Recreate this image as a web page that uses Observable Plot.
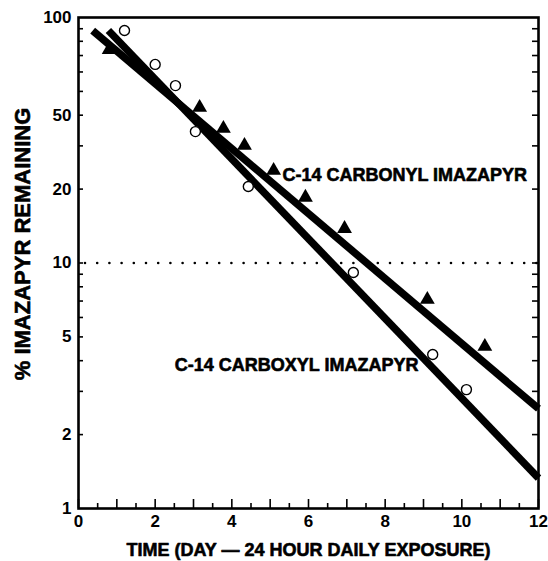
<!DOCTYPE html>
<html>
<head>
<meta charset="utf-8">
<script src="https://cdn.jsdelivr.net/npm/d3@7"></script>
<script src="https://cdn.jsdelivr.net/npm/@observablehq/plot@0.6"></script>
<style>
  html, body { margin: 0; padding: 0; background: #fff; }
  #chart svg { display: block; }
</style>
</head>
<body>
<div id="chart"></div>
<script>
// Observed points: C-14 carbonyl imazapyr (filled triangles)
const carbonylDay = [0.8, 3.16, 3.78, 4.33, 5.09, 5.92, 6.94, 9.1, 10.6];
const carbonylPct = [74, 43, 35.3, 30.1, 23.8, 18.5, 13.8, 7.1, 4.57];
// Observed points: C-14 carboxyl imazapyr (open circles)
const carboxylDay = [1.2, 2.0, 2.53, 3.05, 4.43, 7.17, 9.24, 10.12];
const carboxylPct = [88.5, 64.4, 52.8, 34.3, 20.5, 9.15, 4.24, 3.05];
// Fitted regression lines (end points)
const carbonylFitDay = [0.37, 12];
const carbonylFitPct = [88.5, 2.55];
const carboxylFitDay = [0.78, 12];
const carboxylFitPct = [88.5, 1.33];
// Reference line
const refPct = [10];
// Series labels
const seriesNames = ["C-14 CARBONYL IMAZAPYR", "C-14 CARBOXYL IMAZAPYR"];
const labelDay = [5.32, 8.87];
const labelPct = [22.8, 3.82];
const labelAnchor = ["start", "end"];
// Axes
const xTickValues = [0, 2, 4, 6, 8, 10, 12];
const xMajorTicks = [0,1,2,3,4,5,6,7,8,9,10,11,12];
const xMinorTicks = [0.5,1.5,2.5,3.5,4.5,5.5,6.5,7.5,8.5,9.5,10.5,11.5];
const yTickValues = [1, 2, 5, 10, 20, 40, 100];
const yTickLabels = ["1", "2", "5", "10", "20", "50", "100"];
const yMinorTicks = [2,3,4,5,6,7,8,9,10,20,30,40,50,60,70,80,90];
const xTitle = "TIME (DAY \u2014 24 HOUR DAILY EXPOSURE)";
const yTitle = "% IMAZAPYR REMAINING";

const W = 548, H = 561;
const mL = 78, mR = 10, mT = 17, mB = 53;
const pw = W - mL - mR, ph = H - mT - mB;

const tri = carbonylDay.map((d, i) => ({day: d, pct: carbonylPct[i]}));
const circ = carboxylDay.map((d, i) => ({day: d, pct: carboxylPct[i]}));
const fitA = carbonylFitDay.map((d, i) => ({day: d, pct: carbonylFitPct[i]}));
const fitB = carboxylFitDay.map((d, i) => ({day: d, pct: carboxylFitPct[i]}));
const labels = seriesNames.map((n, i) => ({name: n, day: labelDay[i], pct: labelPct[i], anchor: labelAnchor[i]}));
const yLab = new Map(yTickValues.map((v, i) => [v, yTickLabels[i]]));

const font = "'Liberation Sans', Arial, Helvetica, sans-serif";
const heavy = {fontWeight: "bold", fill: "#000", stroke: "#000", strokeWidth: 0.6};

const chart = Plot.plot({
  width: W, height: H,
  marginLeft: mL, marginRight: mR, marginTop: mT, marginBottom: mB,
  style: {fontFamily: font, background: "#fff", color: "#000"},
  x: {domain: [0, 12]},
  y: {type: "log", domain: [1, 100]},
  marks: [
    Plot.ruleY(refPct, {stroke: "#000", strokeWidth: 2.6, strokeDasharray: "0,12.2", strokeLinecap: "round", strokeDashoffset: -7}),
    Plot.line(fitA, {x: "day", y: "pct", stroke: "#000", strokeWidth: 7.5, strokeLinecap: "butt"}),
    Plot.line(fitB, {x: "day", y: "pct", stroke: "#000", strokeWidth: 7.5, strokeLinecap: "butt"}),
    Plot.dot(tri, {x: "day", y: "pct", symbol: "triangle", r: 5.5, fill: "#000", stroke: "none"}),
    Plot.dot(circ, {x: "day", y: "pct", r: 5, fill: "#fff", stroke: "#000", strokeWidth: 1.4}),
    Plot.text(labels.filter(d => d.anchor === "start"), {x: "day", y: "pct", text: "name", textAnchor: "start", fontSize: 18, ...heavy}),
    Plot.text(labels.filter(d => d.anchor === "end"), {x: "day", y: "pct", text: "name", textAnchor: "end", fontSize: 18, ...heavy}),
    // inward ticks
    Plot.tickY(yMinorTicks, {y: d => d, insetRight: pw - 5, stroke: "#000", strokeWidth: 1.6}),
    Plot.tickY(yMinorTicks, {y: d => d, insetLeft: pw - 6, stroke: "#000", strokeWidth: 1.6}),
    Plot.tickX(xMajorTicks, {x: d => d, insetTop: ph - 9, stroke: "#000", strokeWidth: 1.6}),
    Plot.tickX(xMinorTicks, {x: d => d, insetTop: ph - 5, stroke: "#000", strokeWidth: 1.6}),
    Plot.frame({stroke: "#000", strokeWidth: 2.6}),
    Plot.axisX(xTickValues, {tickSize: 0, tickPadding: 6, fontSize: 17, label: null, ...heavy}),
    Plot.axisY(yTickValues, {tickSize: 0, tickPadding: 7, fontSize: 17, label: null, tickFormat: d => yLab.get(d), ...heavy}),
    Plot.text([xTitle], {frameAnchor: "bottom", lineAnchor: "middle", dy: 42, text: d => d, fontSize: 18, ...heavy}),
    Plot.text([yTitle], {frameAnchor: "left", textAnchor: "middle", lineAnchor: "middle", dx: -56, dy: -19, rotate: -90, text: d => d, fontSize: 22, letterSpacing: "2.4px", ...heavy})
  ]
});
document.getElementById("chart").appendChild(chart);
</script>
</body>
</html>
